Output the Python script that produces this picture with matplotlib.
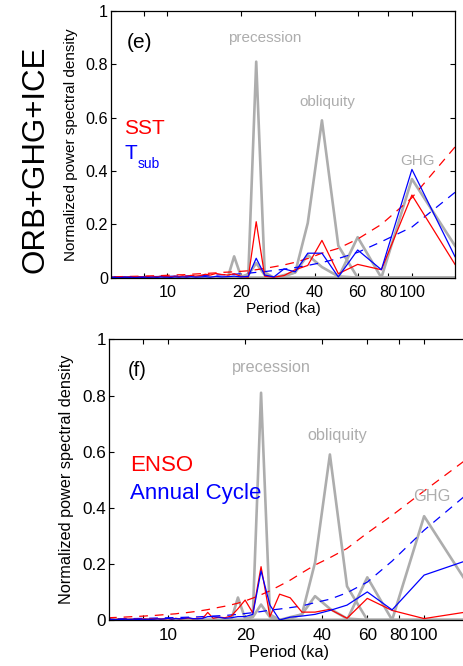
import matplotlib.pyplot as plt
from matplotlib.ticker import NullLocator

plt.rcParams["font.family"] = ["Liberation Sans", "DejaVu Sans"]

# period grid (ka), longest to shortest
PERIOD = [150.0, 100.0, 75.0, 60.0, 50.0, 42.86, 37.5, 33.33, 30.0, 27.27,
          25.0, 23.08, 21.43, 20.0, 18.75, 17.65, 16.67, 15.79, 15.0, 14.29,
          13.64, 13.04, 12.5, 12.0, 11.54, 11.11, 10.71, 10.34, 10.0, 9.68,
          9.38, 9.09, 8.82, 8.57, 8.33, 8.11, 7.89, 7.69, 7.5, 7.32,
          7.14, 6.98, 6.82, 6.67, 6.52, 6.38, 6.25, 6.12, 6.0, 5.88]

# forcing spectra (gray)
PREC = [0, 0, 0, 0, 0, 0, 0, 0, 0, 0,
        0.02, 0.81, 0.015, 0, 0, 0, 0, 0, 0, 0,
        0, 0, 0, 0, 0, 0, 0, 0, 0, 0,
        0, 0, 0, 0, 0, 0, 0, 0, 0, 0,
        0, 0, 0, 0, 0, 0, 0, 0, 0, 0]
OBL = [0, 0, 0, 0, 0.12, 0.59, 0.205, 0.02, 0.005, 0,
       0, 0, 0, 0, 0, 0, 0, 0, 0, 0,
       0, 0, 0, 0, 0, 0, 0, 0, 0, 0,
       0, 0, 0, 0, 0, 0, 0, 0, 0, 0,
       0, 0, 0, 0, 0, 0, 0, 0, 0, 0]
GHG = [0.12, 0.37, 0, 0.152, 0, 0, 0, 0, 0, 0,
       0, 0, 0, 0, 0, 0, 0, 0, 0, 0,
       0, 0, 0, 0, 0, 0, 0, 0, 0, 0,
       0, 0, 0, 0, 0, 0, 0, 0, 0, 0,
       0, 0, 0, 0, 0, 0, 0, 0, 0, 0]
ICE = [0, 0, 0, 0, 0.005, 0.04, 0.085, 0.02, 0.01, 0,
       0.01, 0.055, 0.01, 0.005, 0.08, 0, 0, 0, 0, 0,
       0, 0, 0, 0, 0, 0, 0, 0, 0, 0,
       0, 0, 0, 0, 0, 0, 0, 0, 0, 0,
       0, 0, 0, 0, 0, 0, 0, 0, 0, 0]

# panel (e)
SST = [0.05, 0.31, 0.03, 0.05, 0.015, 0.14, 0.046, 0.03, 0.008, 0.002,
       0.006, 0.21, 0.002, 0.005, 0.015, 0.01, 0.012, 0.016, 0.01, 0.013,
       0.008, 0.006, 0.009, 0.005, 0.007, 0.004, 0.006, 0.003, 0.005, 0.004,
       0.006, 0.003, 0.004, 0.002, 0.005, 0.003, 0.002, 0.004, 0.002, 0.003,
       0.002, 0.003, 0.002, 0.002, 0.003, 0.002, 0.002, 0.001, 0.002, 0.002]
SST_FIT = [0.49, 0.30, 0.20, 0.145, 0.11, 0.092, 0.072, 0.058, 0.048, 0.041,
           0.035, 0.03, 0.026, 0.024, 0.022, 0.021, 0.02, 0.018, 0.017, 0.016,
           0.015, 0.014, 0.013, 0.012, 0.011, 0.011, 0.01, 0.0095, 0.009, 0.0085,
           0.008, 0.0077, 0.0073, 0.007, 0.0066, 0.0063, 0.006, 0.0057, 0.0054, 0.0052,
           0.005, 0.0048, 0.0046, 0.0044, 0.0042, 0.004, 0.0038, 0.0036, 0.0035, 0.0034]
TSUB = [0.079, 0.406, 0.03, 0.104, 0.003, 0.092, 0.092, 0.022, 0.033, 0.003,
        0.01, 0.073, 0.005, 0.003, 0.006, 0.004, 0.003, 0.005, 0.002, 0.004,
        0.003, 0.002, 0.004, 0.002, 0.003, 0.002, 0.003, 0.001, 0.002, 0.002,
        0.003, 0.001, 0.002, 0.002, 0.001, 0.002, 0.001, 0.002, 0.001, 0.001,
        0.002, 0.001, 0.001, 0.002, 0.001, 0.001, 0.001, 0.001, 0.001, 0.001]
TSUB_FIT = [0.32, 0.19, 0.135, 0.095, 0.072, 0.057, 0.046, 0.038, 0.032, 0.027,
            0.023, 0.02, 0.017, 0.015, 0.013, 0.012, 0.011, 0.01, 0.0095, 0.009,
            0.0085, 0.008, 0.0075, 0.007, 0.0066, 0.0062, 0.0058, 0.0055, 0.0052, 0.005,
            0.0047, 0.0045, 0.0043, 0.0041, 0.0039, 0.0037, 0.0035, 0.0034, 0.0032, 0.0031,
            0.003, 0.0029, 0.0028, 0.0027, 0.0026, 0.0025, 0.0024, 0.0023, 0.0022, 0.0021]

# panel (f)
ENSO = [0.03, 0.005, 0.034, 0.077, 0.006, 0.038, 0.028, 0.028, 0.079, 0.092,
        0.012, 0.19, 0.025, 0.071, 0.04, 0.014, 0.008, 0.01, 0.006, 0.027,
        0.005, 0.006, 0.004, 0.007, 0.005, 0.004, 0.006, 0.003, 0.005, 0.004,
        0.003, 0.005, 0.003, 0.004, 0.002, 0.004, 0.003, 0.002, 0.003, 0.002,
        0.003, 0.002, 0.003, 0.002, 0.002, 0.003, 0.002, 0.002, 0.003, 0.002]
ENSO_FIT = [0.58, 0.46, 0.373, 0.31, 0.255, 0.222, 0.196, 0.168, 0.142, 0.122,
            0.104, 0.09, 0.078, 0.068, 0.06, 0.054, 0.049, 0.045, 0.041, 0.037,
            0.034, 0.031, 0.029, 0.027, 0.025, 0.024, 0.022, 0.021, 0.02, 0.019,
            0.018, 0.017, 0.016, 0.0155, 0.015, 0.014, 0.0135, 0.013, 0.0125, 0.012,
            0.0115, 0.011, 0.0105, 0.01, 0.0097, 0.0094, 0.009, 0.0087, 0.0084, 0.008]
ANNUAL = [0.215, 0.16, 0.036, 0.10, 0.053, 0.034, 0.02, 0.014, 0.01, 0.0,
          0.053, 0.175, 0.02, 0.012, 0.012, 0.008, 0.006, 0.01, 0.012, 0.012,
          0.006, 0.004, 0.005, 0.008, 0.006, 0.004, 0.005, 0.003, 0.006, 0.004,
          0.003, 0.004, 0.003, 0.002, 0.003, 0.002, 0.003, 0.002, 0.002, 0.003,
          0.002, 0.002, 0.003, 0.002, 0.002, 0.002, 0.001, 0.002, 0.002, 0.002]
ANNUAL_FIT = [0.455, 0.32, 0.21, 0.135, 0.097, 0.074, 0.062, 0.05, 0.044, 0.039,
              0.035, 0.03, 0.026, 0.023, 0.02, 0.018, 0.016, 0.015, 0.014, 0.013,
              0.012, 0.011, 0.0105, 0.01, 0.0095, 0.009, 0.0086, 0.0082, 0.0078, 0.0075,
              0.0072, 0.0069, 0.0066, 0.0063, 0.006, 0.0058, 0.0056, 0.0054, 0.0052, 0.005,
              0.0048, 0.0046, 0.0045, 0.0044, 0.0043, 0.0042, 0.0041, 0.004, 0.0039, 0.0038]

XTICKS = [8, 10, 20, 40, 60, 80, 100]
XTICKLABELS = ["", "10", "20", "40", "60", "80", "100"]
YTICKS = [0, 0.2, 0.4, 0.6, 0.8, 1]
YTICKLABELS = ["0", "0.2", "0.4", "0.6", "0.8", "1"]

GRAY = "#adadad"
RED = "#ff0000"
BLUE = "#0000ff"


def draw_panel(ax, red, red_fit, blue, blue_fit, fs):
    for g in (ICE, PREC, OBL, GHG):
        ax.plot(PERIOD, g, color=GRAY, lw=1.9)
    ax.plot(PERIOD, red_fit, color=RED, lw=0.9, dashes=(7, 5.5))
    ax.plot(PERIOD, blue_fit, color=BLUE, lw=0.9, dashes=(7, 5.5))
    ax.plot(PERIOD, red, color=RED, lw=0.9)
    ax.plot(PERIOD, blue, color=BLUE, lw=0.9)

    ax.set_xscale("log")
    ax.set_xlim(min(PERIOD), max(PERIOD))
    ax.set_ylim(0, 1)
    ax.set_xticks(XTICKS)
    ax.set_xticklabels(XTICKLABELS)
    ax.xaxis.set_minor_locator(NullLocator())
    ax.set_yticks(YTICKS)
    ax.set_yticklabels(YTICKLABELS)
    ax.tick_params(axis="both", direction="in", length=3.5, width=0.8,
                   top=True, right=True, labelsize=fs + 0.6, colors="black")
    ax.tick_params(axis="x", pad=5.5)
    ax.tick_params(axis="y", pad=2)
    for s in ax.spines.values():
        s.set_linewidth(0.9)
    ax.set_xlabel("Period (ka)", fontsize=fs)
    ax.set_ylabel("Normalized power spectral density", fontsize=fs)
    ax.xaxis.set_label_coords(0.5, -0.09)
    ax.yaxis.set_label_coords(-0.097, 0.5)


def main():
    fig = plt.figure(figsize=(4.63, 6.66), dpi=100)

    ax1 = fig.add_axes([0.2397, 0.5830, 0.7430, 0.4005])
    draw_panel(ax1, SST, SST_FIT, TSUB, TSUB_FIT, 11)
    t = ax1.transAxes
    ax1.text(0.084, 0.88, "(e)", transform=t, fontsize=15, ha="center", va="center")
    ax1.text(0.448, 0.899, "precession", transform=t, fontsize=11, color=GRAY,
             ha="center", va="center")
    ax1.text(0.629, 0.66, "obliquity", transform=t, fontsize=11, color=GRAY,
             ha="center", va="center")
    ax1.text(0.890, 0.437, "GHG", transform=t, fontsize=11, color=GRAY,
             ha="center", va="center")
    ax1.text(0.038, 0.56, "SST", transform=t, fontsize=15, color=RED,
             ha="left", va="center")
    ax1.text(0.038, 0.464, "T", transform=t, fontsize=15, color=BLUE,
             ha="left", va="center")
    ax1.text(0.078, 0.426, "sub", transform=t, fontsize=10, color=BLUE,
             ha="left", va="center")

    ax2 = fig.add_axes([0.2354, 0.0691, 0.7780, 0.4212])
    draw_panel(ax2, ENSO, ENSO_FIT, ANNUAL, ANNUAL_FIT, 11.7)
    t = ax2.transAxes
    ax2.text(0.078, 0.888, "(f)", transform=t, fontsize=14.5, ha="center", va="center")
    ax2.text(0.452, 0.899, "precession", transform=t, fontsize=11.7, color=GRAY,
             ha="center", va="center")
    ax2.text(0.634, 0.656, "obliquity", transform=t, fontsize=11.7, color=GRAY,
             ha="center", va="center")
    ax2.text(0.897, 0.44, "GHG", transform=t, fontsize=11.7, color=GRAY,
             ha="center", va="center")
    ax2.text(0.058, 0.549, "ENSO", transform=t, fontsize=16, color=RED,
             ha="left", va="center")
    ax2.text(0.058, 0.452, "Annual Cycle", transform=t, fontsize=16, color=BLUE,
             ha="left", va="center")

    fig.text(35.3 / 463, 1 - 159 / 666, "ORB+GHG+ICE", rotation=90,
             ha="center", va="center", fontsize=22.5,
             family=["Liberation Sans Narrow", "Liberation Sans"])

    fig.savefig("out.png", dpi=100)


if __name__ == "__main__":
    main()
